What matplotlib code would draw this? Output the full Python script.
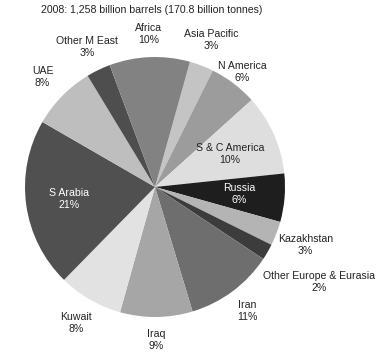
import numpy as np
import matplotlib
matplotlib.use("Agg")
import matplotlib.pyplot as plt

plt.rcParams['font.family'] = ['Liberation Sans', 'DejaVu Sans']

# Proved oil reserves, 2008 (share of world total, %)
regions = ["Asia Pacific", "N America", "S & C America", "Russia", "Kazakhstan",
           "Other Europe & Eurasia", "Iran", "Iraq", "Kuwait", "S Arabia",
           "UAE", "Other M East", "Africa"]
shares = [3, 6, 10, 6, 3, 2, 11, 9, 8, 21, 8, 3, 10]
greys = ["#c4c4c4", "#9c9c9c", "#dedede", "#1e1e1e", "#b4b4b4", "#3c3c3c",
         "#6e6e6e", "#a6a6a6", "#e2e2e2", "#505050", "#bebebe", "#4e4e4e",
         "#828282"]
# radial position of each label (in pie radii) and its colour
label_dist = [1.21, 1.11, 0.63, 0.65, 1.24, 1.46, 1.19, 1.18, 1.21, 0.67, 1.21, 1.2, 1.18]
label_col = ["#222222"] * 13
label_col[3] = "white"
label_col[9] = "white"

title = "2008: 1,258 billion barrels (170.8 billion tonnes)"

fig = plt.figure(figsize=(3.89, 3.58), dpi=100)
ax = fig.add_axes([0, 0, 1, 1])

wedges, _ = ax.pie(shares, colors=greys, startangle=74.4, counterclock=False,
                   wedgeprops=dict(linewidth=0))

for w, name, s, d, c in zip(wedges, regions, shares, label_dist, label_col):
    mid = np.deg2rad((w.theta1 + w.theta2) / 2)
    ax.text(d * np.cos(mid), d * np.sin(mid), f"{name}\n{s}%",
            ha="center", va="center", fontsize=7.6, color=c, linespacing=1.25)

# place pie: centre at (155, 187) px, radius 130 px
r = 130.0
ax.set_xlim(-155 / r, (389 - 155) / r)
ax.set_ylim(-(358 - 187) / r, 187 / r)
ax.set_aspect("auto")
ax.axis("off")

fig.text(152 / 389, 1 - 10 / 358, title, ha="center", va="center",
         fontsize=7.6, color="#222222")

fig.savefig("out.png", dpi=100)
